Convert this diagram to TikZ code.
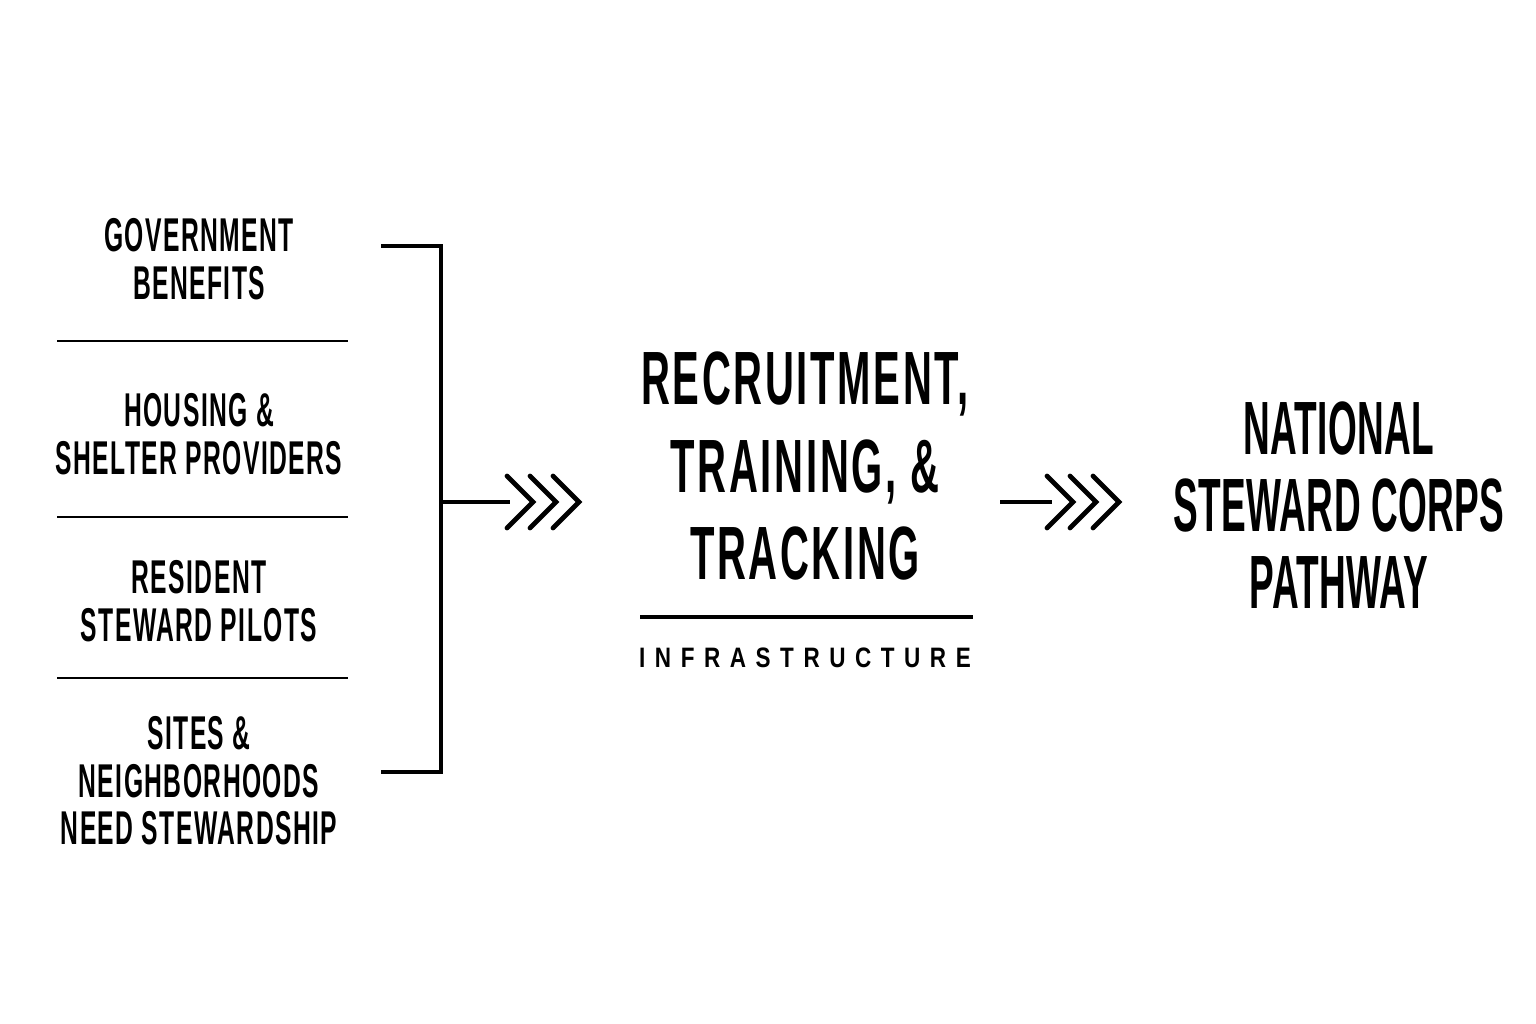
\documentclass[tikz,border=0pt]{standalone}
\usepackage{fontspec}
\usetikzlibrary{positioning}
\newfontfamily\condfont{Liberation Sans}[FakeStretch=0.52,LetterSpace=3]
\newfontfamily\hubfont{Liberation Sans}[FakeStretch=0.53,LetterSpace=3.5]
\newfontfamily\narrowfont{Liberation Sans}[FakeStretch=0.49,LetterSpace=0.5]
\newfontfamily\spacedfont{Liberation Sans}[FakeStretch=0.8,LetterSpace=34]

\begin{document}
\begin{tikzpicture}[x=0.02cm,y=-0.02cm]
\tikzstyle{every node}+=[inner sep=0pt, align=center]
\tikzstyle{source}=[font=\condfont\bfseries\fontsize{27}{27}\selectfont]
\tikzstyle{hub}=[font=\hubfont\bfseries\fontsize{43}{50}\selectfont]
\tikzstyle{goal}=[font=\narrowfont\bfseries\fontsize{43}{44}\selectfont]
\tikzstyle{tag}=[font=\spacedfont\bfseries\fontsize{16}{16}\selectfont]
\tikzstyle{rule}=[line width=1.3pt]
\tikzstyle{brace}=[line width=2.1pt]
\tikzstyle{chev}=[line width=2.7pt, line cap=round]
\fill [white] (0,0) rectangle (1536,1024);
\useasboundingbox (0,0) rectangle (1536,1024);
\node [source] (gov) at (199,259) {GOVERNMENT\\BENEFITS};
\node [source] (housing) at (199,434) {HOUSING \&\\SHELTER PROVIDERS};
\node [source] (pilots) at (199,601) {RESIDENT\\STEWARD PILOTS};
\node [source] (sites) at (199,781) {SITES \&\\NEIGHBORHOODS\\NEED STEWARDSHIP};
\draw [rule] (57,341) -- (348,341);
\draw [rule] (57,517) -- (348,517);
\draw [rule] (57,678) -- (348,678);
\coordinate (btop) at (381,246);
\coordinate (bbot) at (381,772);
\coordinate (join) at (441,502);
\draw [brace] (btop) -| (join);
\draw [brace] (bbot) -| (join);
\coordinate (hubin) at (510,502);
\draw [brace] (join) -- (hubin);
\foreach \x in {507,530,553}
  \draw [chev] (\x,476) -- (\x+26,502) -- (\x,528);
\node [hub] (hub) at (805,466) {RECRUITMENT,\\TRAINING, \&\\TRACKING};
\coordinate (ruleleft) at (640,617);
\coordinate (ruleright) at (973,617);
\draw [brace] (ruleleft) -- (ruleright);
\node [tag] (infra) at (805,658) {INFRASTRUCTURE};
\coordinate (hubout) at (1000,502);
\coordinate (goalin) at (1052,502);
\draw [brace] (hubout) -- (goalin);
\foreach \x in {1047,1070,1093}
  \draw [chev] (\x,476) -- (\x+26,502) -- (\x,528);
\node [goal] (goal) at (1339,505) {NATIONAL\\STEWARD CORPS\\PATHWAY};
\end{tikzpicture}
\end{document}
